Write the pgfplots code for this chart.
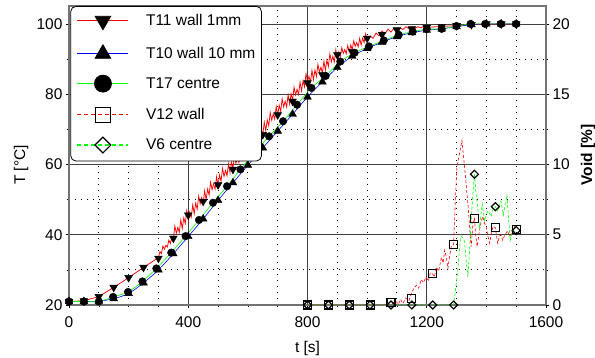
\documentclass[border=0pt]{standalone}
\usepackage{fontspec}
\setmainfont{Liberation Sans}
\usepackage{pgfplots}
\pgfplotsset{compat=1.18}
\definecolor{lgreen}{rgb}{0,1,0}
\pgfplotsset{
  common/.style={
    scale only axis, width=477bp, height=299bp,
    xmin=0, xmax=1600,
    /pgf/number format/assume math mode=true,
    /pgf/number format/1000 sep={},
    tick align=outside, major tick length=3bp, minor tick length=2bp,
    tick style={black, line width=0.6bp},
    axis line style={black!55, line width=1.2bp},
  },
  lentry/.style n args={3}{legend image code/.code={%
    \draw[draw=#1, line width=1.2bp, #2] (0bp,0bp) -- (51bp,0bp);
    \path[draw=none] plot[#3] coordinates {(25.5bp,0bp)};}},
}
\begin{document}
\begin{tikzpicture}[font=\fontsize{15.5bp}{18bp}\selectfont]
\useasboundingbox (-69bp,-53bp) rectangle (526bp,305bp);
\begin{axis}[common,
  ymin=20, ymax=105.1,
  xtick={0,400,...,1600},
  minor xtick={100,200,300,500,600,700,900,1000,1100,1300,1400,1500},
  ytick={20,40,...,100}, minor ytick={30,50,70,90},
  xtick pos=bottom, ytick pos=left,
  xticklabel style={yshift=-5.5bp},
  grid=both,
  major grid style={black!75, line width=0.6bp, solid},
  minor grid style={black, line width=0.9bp, dash pattern=on 0.9bp off 5.1bp},
  xlabel={t [s]}, ylabel={T [°C]},
  xlabel style={at={(axis description cs:0.5,-0.146)}, anchor=center},
  ylabel style={at={(axis description cs:-0.1006,0.468)}, anchor=center},
]
% T11 wall 1mm (red, noisy)
\addplot[red, line width=0.75bp, forget plot] coordinates {
(0,21) (50,21.2) (100,22.4) (150,25) (200,27.8) (250,30.7) (300,33.5)
(305,35.2) (310,34.6) (315,36.8) (320,35.9) (325,37.0) (330,36.5) (335,38.5) (340,37.5) (345,39.2)
(350,38.8) (355,42.5) (360,40.4) (365,42.1) (370,40.7) (375,44.2) (380,41.8) (385,44.8) (390,43.2) (395,46.9)
(400,44.8) (405,46.5) (410,45) (415,48.5) (420,46) (425,49) (430,47.3) (435,51) (440,48.8) (445,50.5)
(450,49) (455,52.5) (460,50) (465,53) (470,51.3) (475,55) (480,52.8) (485,54.5) (490,53) (495,56.5)
(500,54) (505,57) (510,55.2) (515,58.9) (520,56.6) (525,58.3) (530,56.8) (535,60.2) (540,57.7) (545,60.6)
(550,58.9) (555,62.6) (560,60.3) (565,62) (570,60.5) (575,64) (580,61.4) (585,64.4) (590,62.7) (595,66.3)
(600,64.1) (605,65.8) (610,64.3) (615,67.9) (620,65.4) (625,68.4) (630,66.7) (635,70.4) (640,68.3) (645,70)
(650,68.5) (655,72) (660,69.6) (665,72.7) (670,71) (675,74.8) (680,72.6) (685,74.4) (690,72.9) (695,76.5)
(700,74) (705,76.9) (710,75.1) (715,78.7) (720,76.4) (725,78) (730,76.4) (735,79.8) (740,77.2) (745,80.1)
(750,78.3) (755,82) (760,79.8) (765,81.4) (770,79.9) (775,83.4) (780,80.9) (785,83.9) (790,82.1) (795,85.8)
(800,83.6) (805,85.1) (810,83.4) (815,86.8) (820,84.1) (825,86.9) (830,85) (835,88.5) (840,86.2) (845,87.7)
(850,86) (855,89.4) (860,86.8) (865,89.7) (870,87.9) (875,91.5) (880,89.2) (885,90.8) (890,89.2) (895,92.6)
(900,90) (905,92) (910,90.7) (915,93.2) (920,91.6) (925,92.7) (930,91.5) (935,93.9) (940,92) (945,94)
(950,92.7) (955,95.2) (960,93.6) (965,94.7) (970,93.5) (975,95.9) (980,94) (985,96) (990,94.7) (995,97.2)
(1000,95.6) (1010,96.6) (1020,95.9) (1030,97.4) (1040,96.6) (1050,98) (1060,97.2) (1070,98.5) (1080,97.7) (1090,98.8)
(1100,98.2) (1110,98.9) (1120,98.4) (1130,99.2) (1140,98.6) (1150,99.2) (1160,98.7) (1170,99.2) (1180,98.9) (1190,99.3)
(1200,99) (1250,99.3) (1300,99.5) (1350,99.8) (1400,100) (1450,100) (1500,100)
};
\addplot[only marks, mark=triangle*, mark size=4.5bp, black, mark options={rotate=180}, forget plot] coordinates {
(0,21) (50,21.2) (100,22.4) (150,25) (200,27.8) (250,30.7) (300,33.3) (350,39) (400,45.6) (450,49.5)
(500,54.2) (550,58.6) (600,63.3) (650,68.5) (700,74.1) (750,78) (800,83.2) (850,85.5) (900,91.2) (950,92.1)
(1000,95.9) (1050,97) (1100,98.3) (1150,98.6) (1200,99) (1250,99.2) (1300,99.5) (1350,99.8) (1400,100) (1450,100) (1500,100)
};
% T10 wall 10 mm (blue)
\addplot[blue, line width=0.6bp, smooth, forget plot] coordinates {
(0,21) (50,21) (100,21.1) (150,21.8) (200,23.3) (250,26.3) (300,30) (350,34.6) (400,39.5) (450,44.5)
(500,49.8) (550,54.8) (600,59.8) (650,64.7) (700,69.5) (750,74.3) (800,79.2) (850,83.5) (900,87.6) (950,90.8)
(1000,93) (1050,94.8) (1100,96.4) (1150,97.5) (1200,98.2) (1250,98.6) (1300,99.2) (1350,99.8) (1400,100) (1450,100) (1500,100)
};
\addplot[only marks, mark=triangle*, mark size=4.5bp, black, forget plot] coordinates {
(0,21) (50,21) (100,21.1) (150,21.8) (200,23.3) (250,26.3) (300,30) (350,34.6) (400,39.5) (450,44.5)
(500,49.8) (550,54.8) (600,59.8) (650,64.7) (700,69.5) (750,74.3) (800,79.2) (850,83.5) (900,87.6) (950,90.8)
(1000,93) (1050,94.8) (1100,96.4) (1150,97.5) (1200,98.2) (1250,98.6) (1300,99.2) (1350,99.8) (1400,100) (1450,100) (1500,100)
};
% T17 centre (green)
\addplot[lgreen, line width=0.6bp, smooth, forget plot] coordinates {
(0,21) (50,21) (100,21) (148,22.3) (198,23.7) (246,26.7) (293,30.4) (343,34.9) (391,39.6) (436,44.2)
(483,49.1) (530,53.8) (575,58.6) (623,63.5) (671,68.0) (718,72.3) (765,77.0) (813,81.8) (861,85.2) (910,89.3)
(958,91.8) (1006,93.6) (1056,95.3) (1106,96.9) (1153,97.8) (1200,98.5) (1250,98.6) (1300,99.4) (1347,100) (1396,100) (1448,100) (1500,100)
};
\addplot[only marks, mark=*, mark size=3.8bp, black, forget plot] coordinates {
(0,21) (50,21) (100,21) (148,22.3) (198,23.7) (246,26.7) (293,30.4) (343,34.9) (391,39.6) (436,44.2)
(483,49.1) (530,53.8) (575,58.6) (623,63.5) (671,68.0) (718,72.3) (765,77.0) (813,81.8) (861,85.2) (910,89.3)
(958,91.8) (1006,93.6) (1056,95.3) (1106,96.9) (1153,97.8) (1200,98.5) (1250,98.6) (1300,99.4) (1347,100) (1396,100) (1448,100) (1500,100)
};
\end{axis}
\begin{axis}[common,
  ymin=0, ymax=21.275,
  axis y line*=right, axis x line=none,
  ytick={0,5,...,20}, minor ytick={2.5,7.5,12.5,17.5},
  ylabel={\bfseries Void [\%]},
  ylabel style={at={(axis description cs:1.0881,0.502)}, anchor=center},
  legend style={at={(0.003,1)}, anchor=north west, draw=black, line width=0.8bp,
    rounded corners=5bp, fill=white, inner xsep=6bp, inner ysep=8bp,
    row sep=15bp, nodes={inner sep=0bp},
    /tikz/every odd column/.append style={column sep=17bp},
    font=\fontsize{15.5bp}{18bp}\selectfont},
  legend cell align=left,
]
\addlegendimage{lentry={red}{solid}{mark=triangle*, mark size=9bp, mark options={draw=black, fill=black, solid, rotate=180}}}
\addlegendentry{T11 wall 1mm}
\addlegendimage{lentry={blue}{solid}{mark=triangle*, mark size=9bp, mark options={draw=black, fill=black, solid}}}
\addlegendentry{T10 wall 10 mm}
\addlegendimage{lentry={lgreen}{solid}{mark=*, mark size=8.5bp, mark options={draw=black, fill=black, solid}}}
\addlegendentry{T17 centre}
\addlegendimage{lentry={red}{dash pattern=on 4bp off 3bp}{mark=square, mark size=7.5bp, mark options={draw=black, fill=none, solid, line width=1.2bp}}}
\addlegendentry{V12 wall}
\addlegendimage{lentry={lgreen}{dash pattern=on 4bp off 3bp}{mark=square, mark size=5.6bp, mark options={draw=black, fill=none, solid, line width=1.2bp, rotate=45}}}
\addlegendentry{V6 centre}
% V12 wall (red dashed)
\addplot[red, line width=0.6bp, dash pattern=on 3bp off 2bp, forget plot] coordinates {
(800,0) (1080,0) (1095,0.3) (1105,0.05) (1112,0.4) (1120,0.1) (1130,0.5) (1140,0.3) (1148,0.8) (1157,1.2)
(1165,1.4) (1173,1.2) (1181,1.8) (1190,1.6) (1197,2.0) (1205,1.7) (1212,2.3) (1220,2.2) (1226,2.0) (1232,2.7)
(1240,2.4) (1249,3.4) (1255,3.0) (1260,3.9) (1266,3.4) (1271,2.6) (1277,3.5) (1282,4.15) (1290,4.3) (1296,7.5)
(1301,9.8) (1310,10.8) (1318,11.7) (1327,9.8) (1338,7.2) (1344,5.5) (1349,4.15) (1355,5.8) (1360,6.15) (1364,5.0)
(1369,4.15) (1377,5.3) (1382,5.9) (1388,6.3) (1394,5.8) (1399,5.6) (1405,4.9) (1411,4.4) (1416,5.0) (1422,5.6)
(1430,5.5) (1438,4.4) (1444,4.9) (1449,5.0) (1455,4.6) (1460,4.9) (1466,5.1) (1471,5.3) (1477,4.9) (1482,5.0)
(1488,5.4) (1494,5.6) (1500,5.4)
};
% V6 centre (green dashed)
\addplot[lgreen, line width=0.6bp, dash pattern=on 3bp off 2bp, forget plot] coordinates {
(800,0) (1290,0) (1296,1.0) (1304,2.5) (1310,4.0) (1315,4.9) (1321,4.8) (1327,4.5) (1333,3.0) (1338,2.0)
(1344,4.0) (1349,6.05) (1355,8.0) (1360,9.3) (1365,8.0) (1371,7.0) (1377,5.4) (1382,6.5) (1386,7.2) (1390,6.6)
(1394,6.0) (1400,6.4) (1405,6.7) (1411,6.5) (1416,6.3) (1422,6.8) (1430,7.0) (1438,6.7) (1444,7.1) (1449,7.4)
(1453,6.9) (1457,6.4) (1463,7.2) (1469,7.8) (1475,6.0) (1480,4.6) (1485,5.0) (1490,5.3) (1495,5.2) (1500,5.3)
};
\addplot[only marks, mark=square, mark size=4bp, black, mark options={line width=1.2bp}, forget plot] coordinates {
(800,0) (870,0) (940,0) (1010,0) (1080,0.15) (1150,0.45) (1220,2.25) (1290,4.3) (1360,6.15) (1430,5.5) (1500,5.4)
};
\addplot[only marks, mark=square, mark size=2.8bp, black, mark options={line width=1.2bp, rotate=45}, forget plot] coordinates {
(800,0) (870,0) (940,0) (1010,0) (1080,0) (1150,0) (1220,0) (1290,0) (1360,9.3) (1430,7.0) (1500,5.3)
};
\end{axis}
\end{tikzpicture}
\end{document}
